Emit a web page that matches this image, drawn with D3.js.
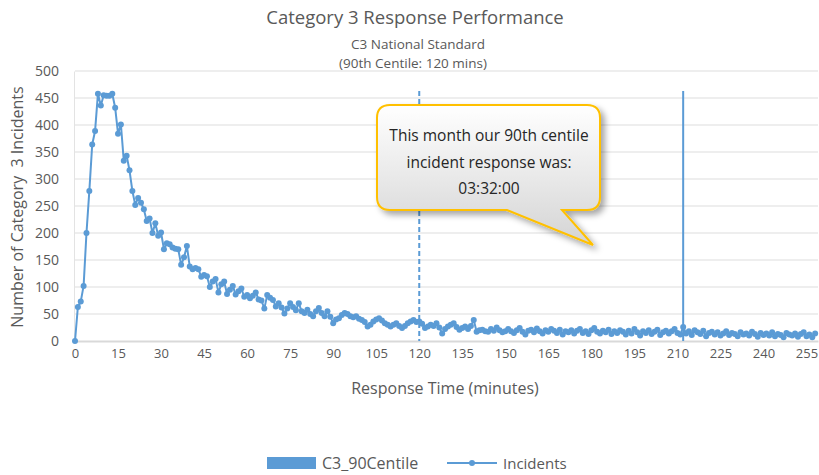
<!DOCTYPE html>
<html><head><meta charset="utf-8">
<script src="https://cdn.jsdelivr.net/npm/d3@7/dist/d3.min.js"></script>
<style>
html,body{margin:0;padding:0;background:#fff;}
svg{display:block;}
text{font-family:"Open Sans","Liberation Sans",sans-serif;}
</style></head><body>
<svg id="chart" width="819" height="475"></svg>
<script>
// ---- data ----
const incidentsA = [0,63,73,102,200,278,364,389,458,436,455,454,454,458,432,384,401,334,343,316,278,252,265,256,244,222,227,200,218,195,201,170,181,179,173,171,170,141,155,176];
const incidentsB = [138,133,135,133,119,122,120,100,110,115,90,105,110,87,95,102,86,92,97,82,85,79,84,90,77,75,60,85,80,76,64,70,62,51,60,70,63,57,70,55,52];
const incidentsC = [58,50,46,55,61,52,46,55,45,33,40,42,48,52,50,46,44,46,41,39,35,27,30,36,40,42,38,33,30,27,30,33,28,24,28,33,36,39,35,36,32,24,27,30,28,33,25,14,22,27,30,33,26,21,24,27,22,28,39,17,20,21,18,17,22,19,25,20,16,18];
const incidentsD = [22,18,15,20,24,17,12,19,21,16,23,18,14,20,17,22,19,15,21,12,18,16,20,14,19,22,15,18,13,20];
const incidentsE = [24,17,14,19,16,21,13,18,15,20,17,12,19,14,22,16,10,18,15,20,13,17,21,11,16,19,14,18,22,15];
const incidentsF = [12,26,14,18,11,20,16,13,19,9,15,17,12,16,10,14,18,11,15,13,9,16,12,14,10,17,13,8,15,11];
const incidentsG = [14,10,16,9,13,11,7,15,12,10,14,8,13,16,9,12,7,14];
const incidents = [].concat(incidentsA, incidentsB, incidentsC, incidentsD, incidentsE, incidentsF, incidentsG);
const minutes = incidents.map((_, i) => i);
const c3Minutes = [212];
const c3Values = [463];
const standardMinute = [120];
const standardValue = [463];
const xTicks = d3.range(0, 256, 15);
const yTicks = [0,50,100,150,200,250,300,350,400,450,500];
const calloutLines = ["This month our 90th centile", "incident response was:", "03:32:00"];

// ---- layout ----
const svg = d3.select("#chart");
const pLeft = 75, pRight = 818, pTop = 71, pBottom = 341;
const x = d3.scaleLinear().domain([0, 259]).range([pLeft, pRight]);
const y = d3.scaleLinear().domain([0, 500]).range([pBottom, pTop]);
const blue = "#5B9BD5";
const grey = "#595959";
const FONT = '"Open Sans","Liberation Sans",sans-serif';

const defs = svg.append("defs");
const grad = defs.append("linearGradient").attr("id","cg").attr("x1",0).attr("y1",0).attr("x2",0).attr("y2",1);
grad.append("stop").attr("offset","0%").attr("stop-color","#ffffff");
grad.append("stop").attr("offset","100%").attr("stop-color","#d4d4d4");
const f = defs.append("filter").attr("id","sh").attr("x","-20%").attr("y","-20%").attr("width","150%").attr("height","150%");
f.append("feDropShadow").attr("dx",4).attr("dy",4).attr("stdDeviation",3).attr("flood-color","#000").attr("flood-opacity",0.35);

// titles
svg.append("text").attr("x",415).attr("y",24).attr("text-anchor","middle")
  .attr("font-size",18.5).attr("fill",grey).text("Category 3 Response Performance");
svg.append("text").attr("x",418).attr("y",49).attr("text-anchor","middle")
  .attr("font-size",13.5).attr("fill",grey).text("C3 National Standard");
svg.append("text").attr("x",413).attr("y",68).attr("text-anchor","middle")
  .attr("font-size",13.5).attr("fill",grey).text("(90th Centile: 120 mins)");

// gridlines
svg.append("g").selectAll("line").data(yTicks.filter(d=>d>0)).join("line")
  .attr("x1",pLeft).attr("x2",pRight).attr("y1",d=>y(d)).attr("y2",d=>y(d))
  .attr("stroke","#e8e8e8").attr("stroke-width",1.3);

// y axis
const yAxis = svg.append("g").attr("transform",`translate(${pLeft-1},0)`)
  .call(d3.axisLeft(y).tickValues(yTicks).tickSize(0).tickPadding(15));
yAxis.select(".domain").attr("stroke","#e3e3e3");
yAxis.selectAll("text").attr("font-size",14).attr("fill",grey).style("font-family",FONT);

// x axis
const xAxis = svg.append("g").attr("transform",`translate(0,${pBottom})`)
  .call(d3.axisBottom(x).tickValues(xTicks).tickSize(0).tickPadding(8).tickFormat(d3.format("d")));
xAxis.select(".domain").attr("stroke","#d9d9d9").attr("stroke-width",2);
xAxis.selectAll("text").attr("font-size",13).attr("fill",grey).style("font-family",FONT);

// axis titles
svg.append("text").attr("transform","translate(23,207) rotate(-90)").attr("text-anchor","middle")
  .attr("font-size",16).attr("fill",grey).style("white-space","pre").text("Number of Category  3 Incidents");
svg.append("text").attr("x",445).attr("y",394).attr("text-anchor","middle")
  .attr("font-size",16).attr("fill",grey).text("Response Time (minutes)");

// standard dashed line
svg.append("g").selectAll("line").data(standardMinute).join("line")
  .attr("x1",d=>x(d)).attr("x2",d=>x(d)).attr("y1",(d,i)=>y(standardValue[i])).attr("y2",y(0))
  .attr("stroke",blue).attr("stroke-width",2).attr("stroke-dasharray","5,3");

// C3_90Centile bar
svg.append("g").selectAll("rect").data(c3Minutes).join("rect")
  .attr("x",d=>x(d)-1).attr("width",2).attr("y",(d,i)=>y(c3Values[i])).attr("height",(d,i)=>y(0)-y(c3Values[i]))
  .attr("fill",blue);

// incidents line
const line = d3.line().x((d,i)=>x(minutes[i])).y(d=>y(d));
svg.append("path").datum(incidents).attr("d",line).attr("fill","none")
  .attr("stroke",blue).attr("stroke-width",2).attr("stroke-linejoin","round");
svg.append("g").selectAll("circle").data(incidents).join("circle")
  .attr("cx",(d,i)=>x(minutes[i])).attr("cy",d=>y(d)).attr("r",3).attr("fill",blue);

// callout
const bx0=377, by0=105, bx1=600, by1=210, r=13;
const tail1=562, tail2=507, tipX=593, tipY=245;
const p = d3.path();
p.moveTo(bx0+r,by0); p.lineTo(bx1-r,by0); p.quadraticCurveTo(bx1,by0,bx1,by0+r);
p.lineTo(bx1,by1-r); p.quadraticCurveTo(bx1,by1,bx1-r,by1);
p.lineTo(tail1,by1); p.lineTo(tipX,tipY); p.lineTo(tail2,by1);
p.lineTo(bx0+r,by1); p.quadraticCurveTo(bx0,by1,bx0,by1-r);
p.lineTo(bx0,by0+r); p.quadraticCurveTo(bx0,by0,bx0+r,by0); p.closePath();
svg.append("path").attr("d",p.toString()).attr("fill","url(#cg)").attr("stroke","#FFC000")
  .attr("stroke-width",2).attr("filter","url(#sh)");
svg.append("g").selectAll("text").data(calloutLines).join("text")
  .attr("x",489).attr("y",(d,i)=>141+i*26.5).attr("text-anchor","middle")
  .attr("font-size",15.5).attr("fill","#262626").text(d=>d);

// legend
svg.append("rect").attr("x",267).attr("y",457).attr("width",49).attr("height",12).attr("fill",blue);
svg.append("text").attr("x",322).attr("y",469).attr("font-size",16).attr("fill",grey).text("C3_90Centile");
svg.append("line").attr("x1",447).attr("x2",497).attr("y1",463).attr("y2",463).attr("stroke",blue).attr("stroke-width",2);
svg.append("circle").attr("cx",472).attr("cy",463).attr("r",3).attr("fill",blue);
svg.append("text").attr("x",503).attr("y",469).attr("font-size",15).attr("fill",grey).text("Incidents");
</script></body></html>
